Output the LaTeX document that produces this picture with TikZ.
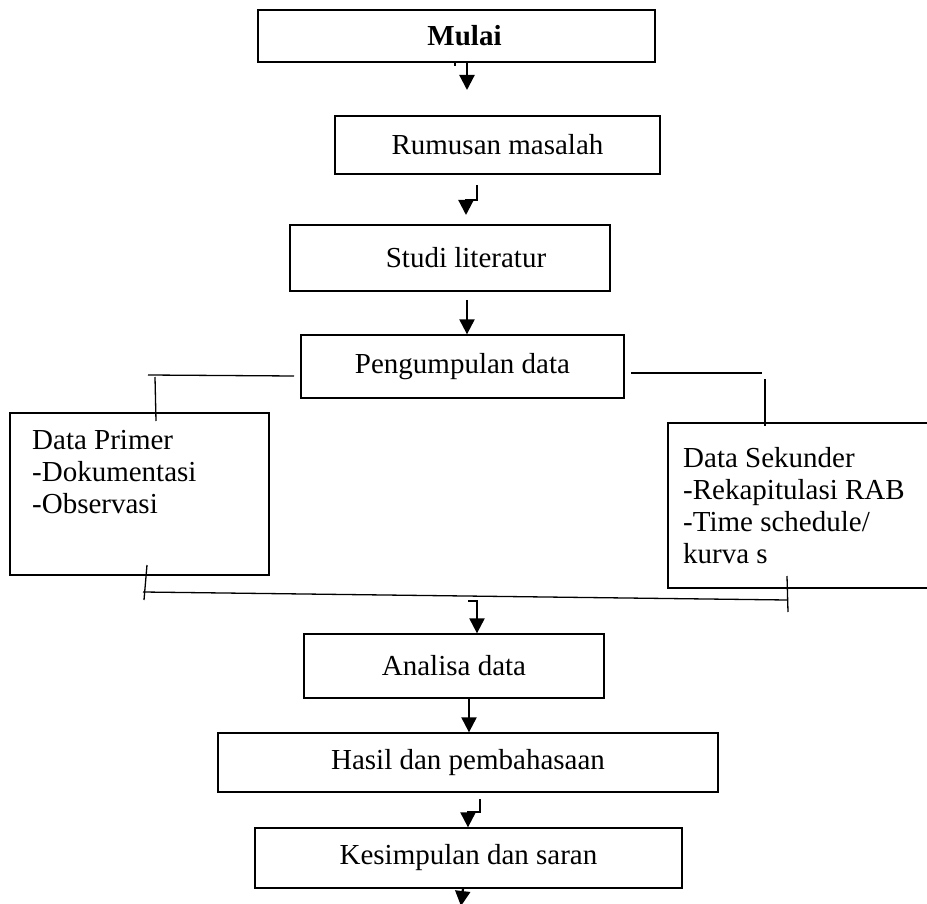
\documentclass[tikz,border=0pt]{standalone}
\usepackage{fontspec}
\setmainfont{Liberation Serif}
\usetikzlibrary{arrows.meta}
\begin{document}
\begin{tikzpicture}[x=1pt,y=-1pt,
  box/.style={draw, line width=1.3pt, inner sep=0pt, font=\fontsize{29}{33}\selectfont},
  conn/.style={line width=1.3pt},
  arr/.style={line width=2.2pt, -{Triangle[width=15pt,length=15pt]}},
  txt/.style={inner sep=0pt, anchor=north west, align=left, font=\fontsize{29}{32}\selectfont}]
\useasboundingbox (0,0) rectangle (927,904);
\clip (0,0) rectangle (927,904);
% boxes
\node[box, minimum width=397pt, minimum height=52pt] (mulai) at (456.5,36) {\hspace*{16pt}\textbf{Mulai}};
\node[box, minimum width=325pt, minimum height=58pt] (rumusan) at (497.5,145) {Rumusan masalah};
\node[box, minimum width=320pt, minimum height=66pt] (studi) at (450,258) {\hspace*{32pt}Studi literatur};
\node[box, minimum width=323pt, minimum height=63pt] (kumpul) at (462.5,366.5) {Pengumpulan data};
\node[box, minimum width=259pt, minimum height=162pt] (primer) at (139.5,494) {};
\node[box, minimum width=290pt, minimum height=165pt] (sekunder) at (813,505.5) {};
\node[box, minimum width=300pt, minimum height=64pt] (analisa) at (454,666) {Analisa data};
\node[box, minimum width=500pt, minimum height=59pt] (hasil) at (468,762.5) {Hasil dan pembahasaan};
\node[box, minimum width=427pt, minimum height=60pt] (simpul) at (468.5,858) {Kesimpulan dan saran};
% texts in side boxes
\node[txt] (tprimer) at (32,430) {Data Primer\\-Dokumentasi\\-Observasi};
\node[txt] (tsekunder) at (683,447) {Data Sekunder\\-Rekapitulasi RAB\\-Time schedule/\\kurva s};
% connector coordinates
\coordinate (l1) at (148,375);
\coordinate (l2) at (294,376);
\coordinate (l3) at (155,377);
\coordinate (l4) at (156,421);
\coordinate (r1) at (631,373);
\coordinate (r2) at (762,373);
\coordinate (r3) at (765,379);
\coordinate (r4) at (765,426);
\coordinate (b1) at (147,565);
\coordinate (b2) at (144,600);
\coordinate (b3) at (143,592);
\coordinate (b4) at (787,600);
\coordinate (b5) at (787,576);
\coordinate (b6) at (788,612);
\draw[conn] (l1) -- (l2);
\draw[conn] (l3) -- (l4);
\draw[conn] (r1) -- (r2);
\draw[conn] (r3) -- (r4);
\draw[conn] (b1) -- (b2);
\draw[conn] (b3) -- (b4);
\draw[conn] (b5) -- (b6);
% arrows
\coordinate (a1s) at (455,66);
\coordinate (a1e) at (467,90);
\draw[arr] (a1s) -- (455,62) -- (467,62) -- (a1e);
\coordinate (a2s) at (477,185);
\coordinate (a2e) at (466,215);
\draw[arr] (a2s) -- (477,200) -- (466,200) -- (a2e);
\coordinate (a3s) at (467,300);
\draw[arr] (a3s) -- (kumpul.north -| a3s);
\coordinate (a4s) at (468,601);
\draw[arr] (a4s) -- (477,601) -- (analisa.north -| 477,601);
\draw[arr] (analisa.south -| 469,0) -- (hasil.north -| 469,0);
\coordinate (a6s) at (480,799);
\draw[arr] (a6s) -- (480,812) -- (468,812) -- (simpul.north -| 468,0);
\coordinate (a7e) at (461,906);
\draw[arr] (simpul.south -| 463,0) -- (a7e);
\end{tikzpicture}
\end{document}
